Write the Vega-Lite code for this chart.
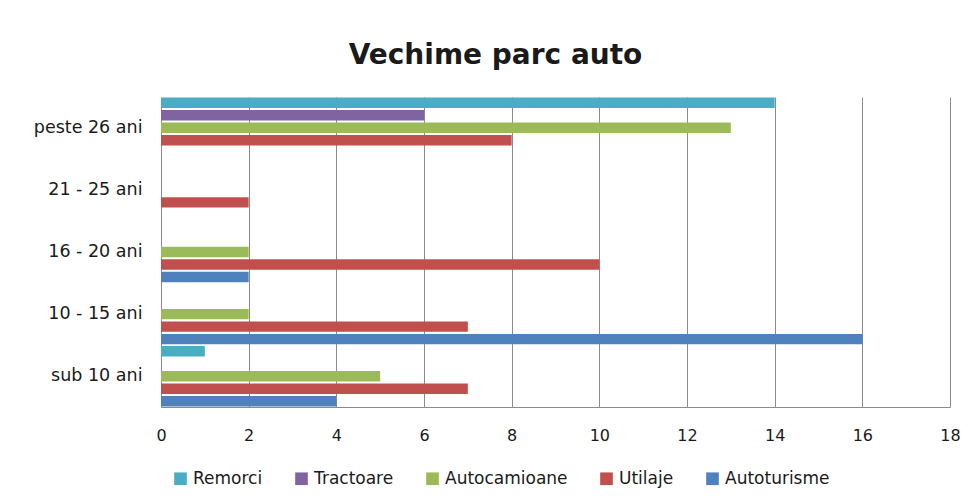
{
  "$schema": "https://vega.github.io/schema/vega-lite/v6.json",
  "autosize": "none",
  "width": 789,
  "height": 310,
  "padding": {"left": 161, "top": 97, "right": 24, "bottom": 96},
  "background": "white",
  "title": {
    "text": "Vechime parc auto",
    "font": "DejaVu Sans",
    "fontSize": 28,
    "fontWeight": "bold",
    "color": "#1a1a1a",
    "anchor": "middle",
    "baseline": "alphabetic",
    "dx": -60,
    "offset": 5
  },
  "data": {
    "values": [
      {"categorie": "peste 26 ani", "tip": "Remorci", "valoare": 14},
      {"categorie": "peste 26 ani", "tip": "Tractoare", "valoare": 6},
      {"categorie": "peste 26 ani", "tip": "Autocamioane", "valoare": 13},
      {"categorie": "peste 26 ani", "tip": "Utilaje", "valoare": 8},
      {"categorie": "peste 26 ani", "tip": "Autoturisme", "valoare": 0},
      {"categorie": "21 - 25 ani", "tip": "Remorci", "valoare": 0},
      {"categorie": "21 - 25 ani", "tip": "Tractoare", "valoare": 0},
      {"categorie": "21 - 25 ani", "tip": "Autocamioane", "valoare": 0},
      {"categorie": "21 - 25 ani", "tip": "Utilaje", "valoare": 2},
      {"categorie": "21 - 25 ani", "tip": "Autoturisme", "valoare": 0},
      {"categorie": "16 - 20 ani", "tip": "Remorci", "valoare": 0},
      {"categorie": "16 - 20 ani", "tip": "Tractoare", "valoare": 0},
      {"categorie": "16 - 20 ani", "tip": "Autocamioane", "valoare": 2},
      {"categorie": "16 - 20 ani", "tip": "Utilaje", "valoare": 10},
      {"categorie": "16 - 20 ani", "tip": "Autoturisme", "valoare": 2},
      {"categorie": "10 - 15 ani", "tip": "Remorci", "valoare": 0},
      {"categorie": "10 - 15 ani", "tip": "Tractoare", "valoare": 0},
      {"categorie": "10 - 15 ani", "tip": "Autocamioane", "valoare": 2},
      {"categorie": "10 - 15 ani", "tip": "Utilaje", "valoare": 7},
      {"categorie": "10 - 15 ani", "tip": "Autoturisme", "valoare": 16},
      {"categorie": "sub 10 ani", "tip": "Remorci", "valoare": 1},
      {"categorie": "sub 10 ani", "tip": "Tractoare", "valoare": 0},
      {"categorie": "sub 10 ani", "tip": "Autocamioane", "valoare": 5},
      {"categorie": "sub 10 ani", "tip": "Utilaje", "valoare": 7},
      {"categorie": "sub 10 ani", "tip": "Autoturisme", "valoare": 4}
    ]
  },
  "mark": {"type": "bar"},
  "encoding": {
    "y": {
      "field": "categorie",
      "type": "nominal",
      "sort": ["peste 26 ani", "21 - 25 ani", "16 - 20 ani", "10 - 15 ani", "sub 10 ani"],
      "scale": {"paddingInner": 0.03, "paddingOuter": 0.01},
      "axis": {
        "title": null,
        "domain": false,
        "ticks": false,
        "labelPadding": 19,
        "labelFont": "DejaVu Sans",
        "labelFontSize": 17.5,
        "labelColor": "#1a1a1a"
      }
    },
    "yOffset": {
      "field": "tip",
      "type": "nominal",
      "scale": {
        "domain": ["Remorci", "Tractoare", "Autocamioane", "Utilaje", "Autoturisme"],
        "paddingInner": 0.17
      }
    },
    "x": {
      "field": "valoare",
      "type": "quantitative",
      "scale": {"domain": [0, 18], "nice": false},
      "axis": {
        "title": null,
        "values": [0, 2, 4, 6, 8, 10, 12, 14, 16, 18],
        "grid": true,
        "gridColor": "#8a8a8a",
        "gridWidth": 1,
        "domain": true,
        "domainColor": "#8a8a8a",
        "ticks": false,
        "labelFlush": false,
        "labelPadding": 20,
        "labelFont": "DejaVu Sans",
        "labelFontSize": 16,
        "labelColor": "#1a1a1a"
      }
    },
    "color": {
      "field": "tip",
      "type": "nominal",
      "scale": {
        "domain": ["Remorci", "Tractoare", "Autocamioane", "Utilaje", "Autoturisme"],
        "range": ["#4BACC6", "#8064A2", "#9BBB59", "#C0504D", "#4F81BD"]
      },
      "legend": {
        "title": null,
        "orient": "none",
        "direction": "horizontal",
        "legendX": 11,
        "legendY": 373,
        "symbolType": "square",
        "symbolSize": 160,
        "symbolStrokeWidth": 0,
        "labelFont": "DejaVu Sans",
        "labelFontSize": 17,
        "labelColor": "#1a1a1a",
        "labelOffset": 4,
        "columnPadding": 30
      }
    }
  },
  "config": {
    "view": {"stroke": null}
  }
}
